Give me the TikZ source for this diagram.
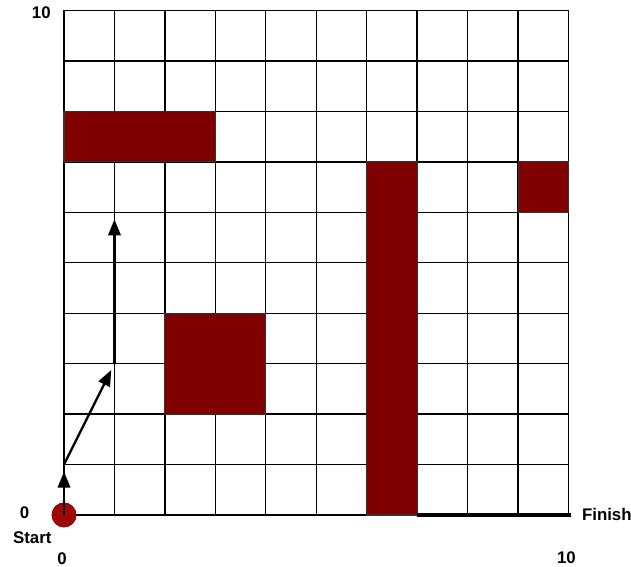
\documentclass[tikz,border=0pt]{standalone}
\usepackage{fontspec}
\setmainfont{Liberation Sans}
\usetikzlibrary{arrows.meta}
\definecolor{obst}{HTML}{800000}
\definecolor{startred}{HTML}{A00808}
\tikzset{
  obstacle/.style={fill=obst, draw=black!80, line width=0.6pt},
  gridline/.style={line width=0.75pt, black},
  lbl/.style={font=\fontsize{9.5}{10}\selectfont\bfseries, inner sep=0pt},
  pathseg/.style={line width=1.3pt, -{Triangle[length=9pt,width=7pt]}, shorten >=4pt},
}
\begin{document}
\begin{tikzpicture}
\useasboundingbox (-1.269,-1.031) rectangle (11.239,10.208);
\fill[white] (-1.269,-1.031) rectangle (11.239,10.208);
% grid
\draw[gridline] (0,0) grid (10,10);
% obstacles
\draw[obstacle] (0,7) rectangle (3,8);
\draw[obstacle] (6,0) rectangle (7,7);
\draw[obstacle] (9,6) rectangle (10,7);
\draw[obstacle] (2,2) rectangle (4,4);
% finish line
\draw[line width=1.8pt] (7,0) -- (10.05,0);
% start
\node[circle, fill=startred, draw=obst, minimum size=0.48cm, inner sep=0pt] (start) at (0,0) {};
\coordinate (p1) at (0,1);
\coordinate (p2) at (1,3);
\coordinate (p3) at (1,6);
\draw[pathseg] (start.center) -- (p1);
\draw[pathseg] (p1) -- (p2);
\draw[pathseg] (p2) -- (p3);
% labels
\node[lbl] (ytop) at (-0.45,9.95) {10};
\node[lbl] (yzero) at (-0.78,0.05) {0};
\node[lbl] (startlbl) at (-0.63,-0.45) {Start};
\node[lbl] (xzero) at (-0.04,-0.86) {0};
\node[lbl] (xten) at (9.96,-0.84) {10};
\node[lbl] (finish) at (10.76,0) {Finish};
\end{tikzpicture}
\end{document}
